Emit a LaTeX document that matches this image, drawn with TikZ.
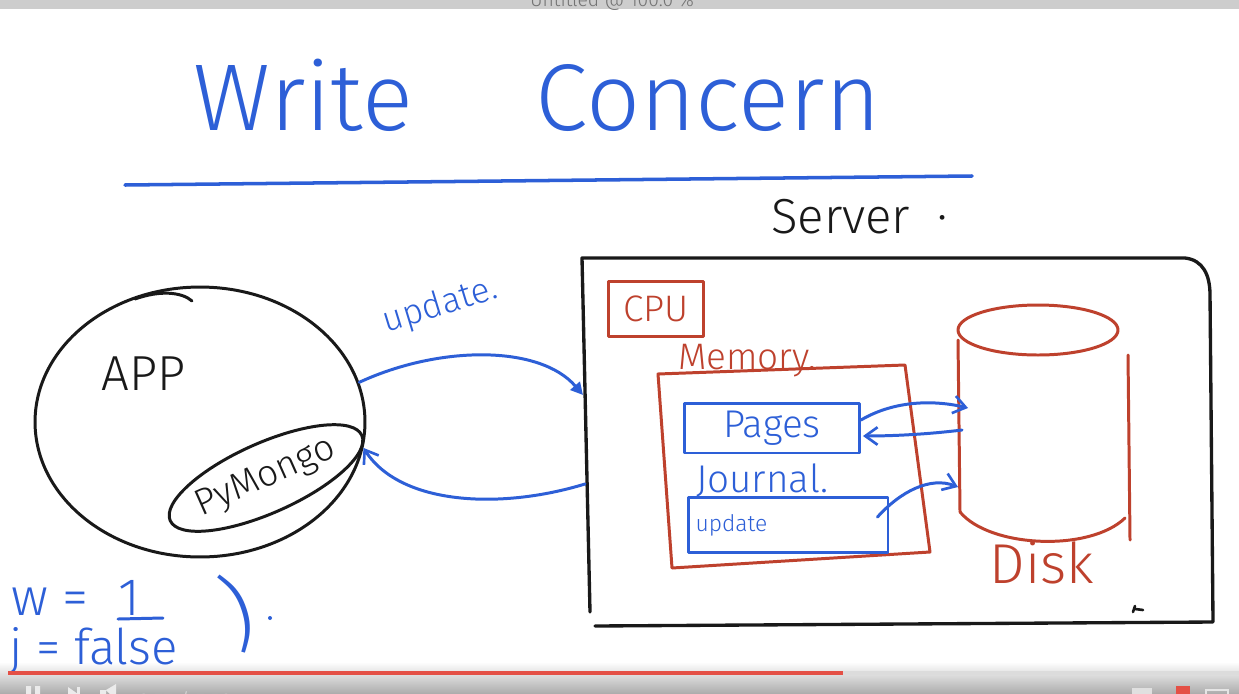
\documentclass[tikz,border=0pt]{standalone}
\usepackage{fontspec}
\setmainfont{Fira Sans Light}
\usetikzlibrary{arrows.meta,shapes.geometric,calc}
\definecolor{inkblue}{RGB}{45,95,215}
\definecolor{inkred}{RGB}{190,65,45}
\definecolor{ink}{RGB}{25,25,25}
\definecolor{bargray}{RGB}{205,205,205}
\definecolor{ytred}{RGB}{228,80,70}
\newcommand{\fs}[1]{\fontsize{#1}{#1}\selectfont}
\tikzset{
  pen/.style={line width=1.7pt, line cap=round, line join=round},
  bluepen/.style={pen, draw=inkblue},
  redpen/.style={pen, draw=inkred},
  blackpen/.style={pen, draw=ink},
  barb/.style={-{Straight Barb[length=7pt,width=10pt,line width=1.5pt]}},
  bluebox/.style={bluepen, rectangle, inner sep=0pt},
  redbox/.style={redpen, rectangle, inner sep=0pt},
}
\begin{document}
\begin{tikzpicture}[x=0.02cm,y=-0.02cm]
\useasboundingbox (0,0) rectangle (1239,693);
\fill[white] (0,0) rectangle (1239,693);
% window title bar
\fill[bargray] (0,0) rectangle (1239,9);
\begin{scope}
  \clip (0,0) rectangle (1239,9);
  \node[font=\fs{11}, text=black!55] (wintitle) at (612,1) {Untitled @ 100.0 \%};
\end{scope}
% title
\node[font=\fs{54}, text=inkblue, anchor=base] (title) at (537,130) {Write\hspace{70pt}Concern};
\draw[bluepen, line width=2pt] (125,185) -- (972,176);
% server
\node[font=\fs{28}, text=ink, anchor=base west] (srvlbl) at (765,233) {Server\ \ ·};
\draw[blackpen, line width=1.9pt] (590,612) -- (582,258) -- (1185,258)
   .. controls (1203,260) and (1210,275) .. (1210,295) -- (1213,622) -- (595,626);
\draw[blackpen, line width=1.5pt] (1133,612) -- (1135,606) (1135,609) -- (1143,610);
\coordinate (srvin) at (583,395);
\coordinate (srvout) at (585,484);
% CPU
\node[redbox, minimum width=1.9cm, minimum height=1.1cm, font=\fs{21}, text=inkred] (cpu) at (656,309) {CPU};
% memory
\node[font=\fs{21}, text=inkred, anchor=base west] (memlbl) at (672,369) {Memory.};
\draw[redpen] (658,374) -- (905,365) -- (930,552) -- (672,568) -- cycle;
% pages
\node[bluebox, minimum width=3.5cm, minimum height=1.0cm, font=\fs{22}, text=inkblue] (pages) at (772,428) {Pages\hspace{25pt}};
% journal
\node[font=\fs{22}, text=inkblue, anchor=base west] (jrnlbl) at (690,492) {Journal.};
\node[bluebox, minimum width=4.0cm, minimum height=1.1cm, font=\fs{13}, text=inkblue, text width=3.7cm, align=left] (ubox) at (788,525) {update\\[10pt]};
% disk
\draw[redpen] (1038,330) ellipse [x radius=80, y radius=25];
\draw[redpen] (958,340) -- (960,512);
\draw[redpen] (1128,355) -- (1130,540);
\draw[redpen] (960,512) .. controls (990,548) and (1090,552) .. (1125,518);
\coordinate (diskA) at (968,408);
\coordinate (diskB) at (962,430);
\coordinate (diskC) at (958,487);
\node[font=\fs{32}, text=inkred] (disklbl) at (1042,563) {Disk};
% memory <-> disk arrows
\draw[bluepen, barb] ($(pages.east)+(0,-8)$) .. controls (895,400) and (935,400) .. (diskA);
\draw[bluepen, barb] (diskB) .. controls (930,434) and (895,436) .. ($(pages.east)+(2,8)$);
\draw[bluepen, barb] ($(ubox.east)+(-12,-8)$) .. controls (900,492) and (930,476) .. (diskC);
% app
\node[blackpen, ellipse, minimum width=6.6cm, minimum height=5.4cm, inner sep=0pt] (app) at (200,422) {};
\draw[blackpen] (135,299) .. controls (160,290) and (182,292) .. (192,301);
\node[font=\fs{28}, text=ink, anchor=base west] (applbl) at (95,390) {APP};
\node[blackpen, ellipse, minimum width=3.4cm, minimum height=1.4cm, inner sep=0pt, rotate=24, font=\fs{21}, text=ink] (pymongo) at (266,478) {PyMongo};
% app <-> server arrows
\node[font=\fs{20}, text=inkblue, rotate=17] (updlbl) at (440,306) {update.};
\draw[bluepen, -{Triangle[length=7pt,width=7pt]}] (app.14) .. controls (440,345) and (540,345) .. (srvin);
\draw[bluepen, barb] (srvout) .. controls (500,510) and (400,505) .. (app.-9);
% video bar background
\shade[top color=white, bottom color=black!32] (0,662) rectangle (1239,693);
% write concern options
\node[font=\fs{30}, text=inkblue, anchor=base west] (wlbl) at (5,615) {w\ =\ \ 1};
\draw[bluepen] (118,619) -- (163,618);
\node[font=\fs{28}, text=inkblue, anchor=base west] (jlbl) at (3,664) {j = false};
\node[font=\fs{48}, text=inkblue, rotate=18] (paren) at (238,612) {)};
\fill[inkblue] (270,618) circle [radius=2];
% video bar
\draw[line width=1.8pt, bargray!70] (843,673) -- (1239,673);
\draw[line width=1.8pt, ytred] (8,673) -- (843,673);
\begin{scope}
  \clip (0,662) rectangle (1239,693);
  \fill[white!92!black] (26,686) rectangle (31,700) (35,686) rectangle (40,700);
  \fill[white!92!black] (68,687) -- (78,694) -- (68,700) -- cycle;
  \fill[white!92!black] (77,687) rectangle (80,700);
  \fill[white!92!black] (100,690) rectangle (106,700) (106,690) -- (116,684) -- (116,700) -- cycle;
  \node[font=\fs{12}, text=white!85!black, anchor=north west] (time) at (133,685) {2:57 / 5:50};
  \fill[white!88!black] (1132,688) rectangle (1152,700);
  \fill[ytred] (1176,686) rectangle (1190,700);
  \draw[white!90!black, line width=1.2pt] (1206,690) rectangle (1228,702);
\end{scope}
\end{tikzpicture}
\end{document}
